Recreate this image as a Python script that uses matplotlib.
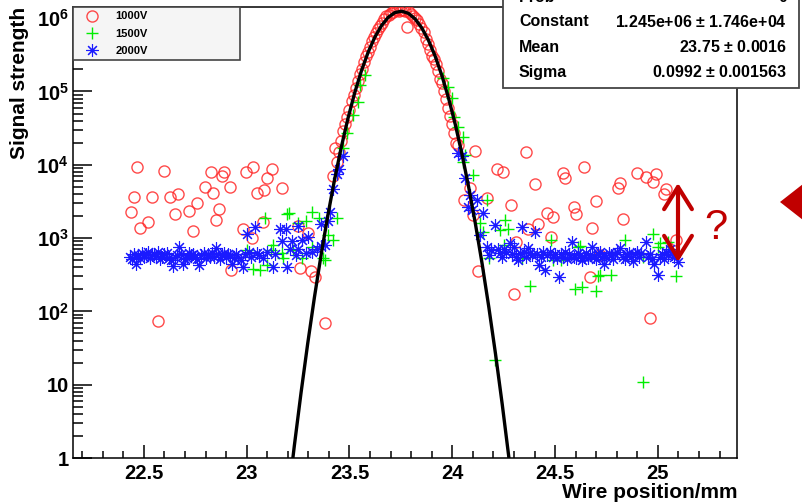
import numpy as np
import matplotlib
matplotlib.use('Agg')
import matplotlib.pyplot as plt
from matplotlib.patches import Rectangle, Polygon
from matplotlib.ticker import FixedLocator, FixedFormatter, LogLocator, MultipleLocator, NullFormatter

plt.rcParams['font.family'] = ['Liberation Sans', 'DejaVu Sans']
plt.rcParams['font.weight'] = 'bold'
plt.rcParams['mathtext.fontset'] = 'custom'
plt.rcParams['mathtext.rm'] = 'Liberation Sans:bold'
plt.rcParams['mathtext.default'] = 'rm'

# 1000V (red circles)
x_1000 = [22.465, 22.60, 22.825, 22.89, 22.88, 22.995, 23.03, 23.125, 23.10, 22.45,
          22.54, 22.625, 22.665, 22.795, 22.835, 22.92, 23.05, 23.085, 23.17, 22.435,
          22.52, 22.48, 22.65, 22.72, 22.76, 22.865, 22.85, 22.74, 22.98, 23.025,
          23.08, 23.25, 23.30, 22.925, 23.26, 23.315, 23.33, 22.57, 23.38, 23.42,
          23.43, 23.44, 23.45, 23.46, 23.47, 23.48, 23.49, 23.50, 23.51, 23.52,
          23.53, 23.54, 23.55, 23.56, 23.57, 23.58, 23.59, 23.60, 23.61, 23.62,
          23.63, 23.64, 23.65, 23.66, 23.67, 23.68, 23.69, 23.70, 23.71, 23.72,
          23.73, 23.74, 23.75, 23.76, 23.77, 23.78, 23.79, 23.80, 23.81, 23.82,
          23.83, 23.84, 23.85, 23.86, 23.87, 23.88, 23.89, 23.90, 23.91, 23.92,
          23.93, 23.94, 23.95, 23.96, 23.97, 23.98, 23.99, 24.00, 24.01, 24.02,
          24.027, 24.11, 24.36, 24.217, 24.246, 24.40, 24.086, 24.17, 24.056, 24.285,
          24.10, 24.46, 24.49, 24.415, 24.37, 24.48, 24.31, 24.125, 24.30, 24.64,
          24.54, 24.55, 24.90, 24.94, 24.975, 24.99, 24.805, 24.815, 25.04, 25.03,
          24.70, 24.59, 24.60, 24.83, 24.68, 24.72, 24.67, 24.96, 25.09]
y_1000 = [9400, 8300, 8000, 8000, 7100, 8000, 9400, 8800, 6600, 3650,
          3650, 3650, 4000, 5000, 4150, 5000, 4150, 4550, 4850, 2280,
          1660, 1370, 2130, 2340, 3000, 2500, 1770, 1250, 1320, 1000,
          1660, 1450, 1170, 365, 390, 355, 290, 73, 70, 7000,
          1.7e4, 1.1e4, 1.5e4, 2.1e4, 2.9e4, 3.6e4, 4.5e4, 5.6e4, 7.4e4, 8.9e4,
          1.12e5, 1.40e5, 1.75e5, 2.05e5, 2.55e5, 3.0e5, 3.5e5, 4.1e5, 4.9e5, 5.5e5,
          6.3e5, 7.1e5, 7.9e5, 8.6e5, 9.8e5, 1.06e6, 1.12e6, 1.18e6, 1.22e6, 1.28e6,
          1.30e6, 1.27e6, 1.31e6, 1.29e6, 1.26e6, 7.6e5, 1.20e6, 1.13e6, 1.06e6, 1.0e6,
          9.3e5, 8.4e5, 7.4e5, 6.5e5, 5.2e5, 4.4e5, 3.7e5, 3.0e5, 2.8e5, 2.4e5,
          1.9e5, 1.5e5, 1.3e5, 1.0e5, 7.8e4, 6.0e4, 4.6e4, 3.6e4, 2.7e4, 2.0e4,
          1.86e4, 1.55e4, 1.5e4, 8700, 8000, 5500, 4800, 3500, 3300, 2800,
          2080, 2200, 1940, 1560, 1330, 1040, 890, 355, 173, 9300,
          7700, 6600, 7700, 6800, 5800, 7500, 4800, 5600, 4700, 4000,
          3200, 2650, 2130, 1820, 1370, 590, 290, 81, 940]

# 1500V (green crosses)
x_1500 = [23.09, 23.205, 23.195, 23.317, 23.29, 23.35, 23.44, 23.25, 23.42, 23.0,
          23.127, 23.12, 23.17, 23.225, 23.176, 23.27, 23.37, 23.03, 23.064, 23.10,
          23.317, 23.395, 23.38, 23.468, 23.49, 23.517, 23.54, 23.55, 23.575, 23.954,
          23.98, 24.0, 24.01, 24.03, 24.05, 24.06, 24.05, 24.10, 24.256, 24.27,
          24.23, 24.135, 24.17, 24.15, 24.18, 24.377, 24.596, 24.63, 24.70, 24.71,
          24.77, 24.84, 24.976, 25.01, 25.05, 25.09, 24.61, 24.48, 24.53, 24.25,
          24.93, 24.34, 24.72, 25.0, 24.62, 24.49, 24.21, 24.93]
y_1500 = [1870, 2200, 2150, 2280, 1700, 1870, 1870, 1610, 940, 690,
          810, 690, 630, 690, 535, 535, 535, 380, 370, 430,
          760, 1100, 500, 1.7e4, 2.7e4, 4.8e4, 7.2e4, 1.23e5, 1.67e5, 1.52e5,
          1.15e5, 8.1e4, 4.5e4, 3.3e4, 2.4e4, 1.36e4, 1.1e4, 7200, 1770, 1330,
          1300, 1610, 3300, 1210, 535, 223, 203, 215, 190, 300,
          315, 940, 1140, 860, 880, 300, 760, 940, 500, 800,
          550, 535, 315, 760, 780, 500, 22, 11]

# 2000V (blue stars)
x_2000 = [22.43, 22.44, 22.45, 22.46, 22.47, 22.48, 22.49, 22.50, 22.51, 22.52,
          22.53, 22.54, 22.55, 22.56, 22.57, 22.58, 22.59, 22.60, 22.61, 22.62,
          22.63, 22.64, 22.65, 22.66, 22.67, 22.68, 22.69, 22.70, 22.71, 22.72,
          22.73, 22.74, 22.75, 22.76, 22.77, 22.78, 22.79, 22.80, 22.81, 22.82,
          22.83, 22.84, 22.85, 22.86, 22.87, 22.88, 22.89, 22.90, 22.91, 22.92,
          22.93, 22.94, 22.95, 22.96, 22.97, 22.98, 22.99, 23.00, 23.01, 23.02,
          23.04, 23.05, 23.06, 23.08, 23.10, 23.13, 23.14, 23.16, 23.17, 23.19,
          23.195, 23.21, 23.22, 23.24, 23.25, 23.25, 23.27, 23.29, 23.30, 23.32,
          23.34, 23.36, 23.36, 23.38, 23.395, 23.405, 23.42, 23.44, 23.45, 23.47,
          24.03, 24.045, 24.06, 24.075, 24.085, 24.095, 24.12, 24.135, 24.15, 24.17,
          24.18, 24.19, 24.21, 24.22, 24.23, 24.24, 24.25, 24.26, 24.28, 24.29,
          24.30, 24.31, 24.32, 24.33, 24.34, 24.35, 24.36, 24.37, 24.38, 24.39,
          24.40, 24.41, 24.42, 24.43, 24.44, 24.45, 24.46, 24.475, 24.49, 24.50,
          24.51, 24.52, 24.53, 24.54, 24.55, 24.56, 24.57, 24.58, 24.59, 24.60,
          24.61, 24.62, 24.63, 24.64, 24.65, 24.66, 24.67, 24.68, 24.69, 24.70,
          24.71, 24.72, 24.73, 24.74, 24.75, 24.76, 24.77, 24.78, 24.79, 24.80,
          24.815, 24.83, 24.84, 24.85, 24.86, 24.87, 24.88, 24.89, 24.90, 24.91,
          24.92, 24.94, 24.95, 24.96, 24.97, 24.98, 25.00, 25.01, 25.02, 25.03,
          25.04, 25.05, 25.06, 25.07, 25.08, 25.10]
y_2000 = [560, 520, 600, 440, 580, 530, 620, 560, 600, 650,
          540, 590, 610, 570, 640, 520, 560, 600, 620, 540,
          500, 420, 560, 580, 760, 600, 440, 520, 540, 620,
          590, 610, 560, 520, 430, 580, 630, 540, 600, 560,
          620, 560, 740, 600, 520, 580, 620, 560, 600, 580,
          450, 540, 610, 560, 500, 400, 600, 1130, 640, 560,
          1420, 620, 580, 540, 650, 400, 600, 1320, 900, 1350,
          400, 700, 900, 580, 1450, 710, 950, 620, 1030, 640,
          700, 1560, 770, 800, 1700, 2300, 4700, 7500, 8800, 1.3e4,
          1.45e4, 1.3e4, 6600, 2650, 3900, 2400, 3300, 1100, 2200, 760,
          590, 680, 1500, 700, 620, 560, 700, 640, 860, 600,
          760, 560, 500, 620, 1420, 640, 560, 730, 620, 580,
          1200, 600, 430, 560, 640, 365, 590, 640, 560, 600,
          530, 295, 600, 560, 640, 520, 600, 890, 560, 540,
          620, 580, 500, 560, 620, 540, 580, 760, 560, 520,
          600, 640, 560, 440, 560, 620, 580, 520, 600, 640,
          740, 560, 520, 600, 620, 560, 480, 600, 640, 560,
          620, 890, 560, 600, 520, 440, 315, 560, 600, 520,
          640, 580, 700, 600, 560, 470]

# gaussian fit parameters from the stats box
fit_const = 1.245e6
fit_mean = 23.75
fit_sigma = 0.0992
stat_names = ['Prob', 'Constant', 'Mean', 'Sigma']
stat_values = ['0', '1.245e+06 $\\pm$ 1.746e+04', '23.75 $\\pm$ 0.0016', '0.0992 $\\pm$ 0.001563']

W, H = 802, 503
fig = plt.figure(figsize=(W / 100, H / 100), dpi=100)
ax = fig.add_axes([73 / W, 45 / H, (737 - 73) / W, (458 - 7) / H])

ax.plot(x_1000, y_1000, 'o', mfc='none', mec='#ff2a2a', ms=8, mew=1.0, alpha=0.85, label='1000V', zorder=3)
ax.plot(x_1500, y_1500, '+', color='#00ee00', ms=9, mew=1.0, label='1500V', zorder=4)
ax.plot(x_2000, y_2000, marker=(8, 2, 0), ls='none', color='#1a1aff', ms=9, mew=0.8, label='2000V', zorder=5)

xmin, xmax = 22.155, 25.385
xf = np.linspace(xmin, xmax, 100)
yf = fit_const * np.exp(-0.5 * ((xf - fit_mean) / fit_sigma) ** 2)
ax.plot(xf, yf, color='black', lw=2.4, zorder=6)

ax.set_yscale('log')
ax.set_xlim(xmin, xmax)
ax.set_ylim(1, 1.42e6)

ax.xaxis.set_minor_locator(MultipleLocator(0.1))
ax.set_xticks([22.5, 23, 23.5, 24, 24.5, 25])
ax.set_xticklabels(['22.5', '23', '23.5', '24', '24.5', '25'])
ax.yaxis.set_major_locator(FixedLocator([1, 10, 1e2, 1e3, 1e4, 1e5, 1e6]))
ax.yaxis.set_major_formatter(FixedFormatter(['1', '10', '$10^{2}$', '$10^{3}$', '$10^{4}$', '$10^{5}$', '$10^{6}$']))
ax.yaxis.set_minor_locator(LogLocator(base=10, subs=np.arange(2, 10)))
ax.yaxis.set_minor_formatter(NullFormatter())

ax.tick_params(axis='x', which='major', direction='in', length=9.5, width=1.1, labelsize=14.5, pad=4, top=False)
ax.tick_params(axis='x', which='minor', direction='in', length=5, width=1.1, top=False)
ax.tick_params(axis='y', which='major', direction='in', length=14, width=1.1, labelsize=14.5, pad=3, right=False)
ax.tick_params(axis='y', which='minor', direction='in', length=7, width=1.1, right=False)
for s in ax.spines.values():
    s.set_linewidth(1.1)

ax.set_xlabel('Wire position/mm', fontsize=15, fontweight='bold', loc='right')
ax.xaxis.set_label_coords(1.0, -0.055)
ax.set_ylabel('Signal strength', fontsize=15, fontweight='bold', loc='top')
ax.yaxis.set_label_coords(-0.066, 1.0)

leg = ax.legend(loc='upper left', bbox_to_anchor=(0, 1, (240 - 73) / 664, 0), mode='expand',
                borderaxespad=0, fontsize=8, frameon=True, fancybox=False, borderpad=0.4,
                handlelength=2.6, handletextpad=0.8, labelspacing=0.65)
leg.get_frame().set_edgecolor('#444444')
leg.get_frame().set_facecolor('#f5f5f5')
leg.get_frame().set_linewidth(1.2)
leg.get_frame().set_alpha(1)
leg.set_zorder(10)

# stats box (top row is cut off by the figure edge, as in the original)
fig.add_artist(Rectangle((503 / W, (H - 88) / H), (799 - 503) / W, 0.3,
                         transform=fig.transFigure, facecolor='white', edgecolor='#444444',
                         lw=1.3, zorder=20))
for i, (nm, val) in enumerate(zip(stat_names, stat_values)):
    yy = 1 - (-3 + 25 * i) / H
    fig.text(519 / W, yy, nm, fontsize=11.5, fontweight='bold', va='center', ha='left', zorder=21)
    fig.text(787 / W, yy, val, fontsize=11.5, fontweight='bold', va='center', ha='right', zorder=21)

# red annotation
ax.annotate('', xy=(678, H - 262), xytext=(678, H - 183), xycoords='figure pixels',
            textcoords='figure pixels',
            arrowprops=dict(arrowstyle='<->,head_length=0.8,head_width=0.5', color='#c00000',
                            lw=3, mutation_scale=20, shrinkA=0, shrinkB=0), zorder=30)
fig.text(716 / W, 1 - 228 / H, '?', fontsize=30, fontweight='normal', color='#c00000',
         ha='center', va='center', zorder=30)
fig.add_artist(Polygon([(780 / W, 1 - 202 / H), (803 / W, 1 - 184 / H), (803 / W, 1 - 220 / H)],
                       closed=True, transform=fig.transFigure, facecolor='#c00000',
                       edgecolor='none', zorder=30))

fig.savefig('out.png', dpi=100)
